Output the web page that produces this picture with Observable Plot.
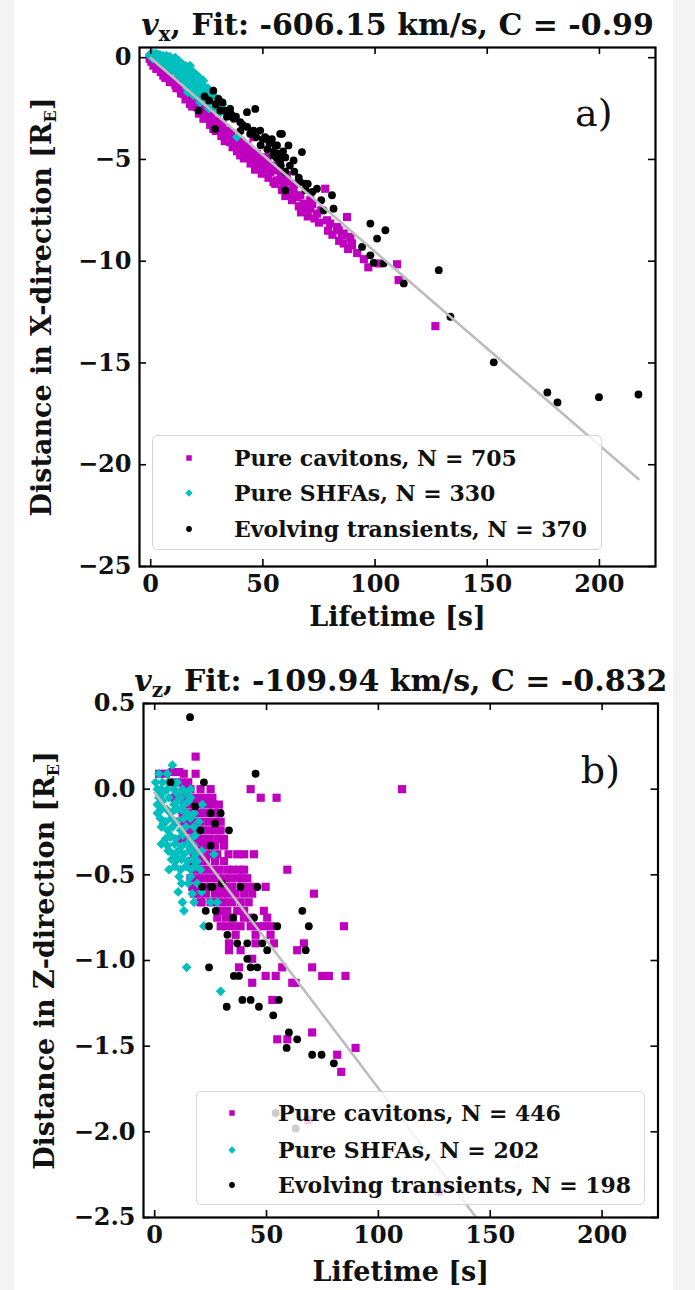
<!DOCTYPE html>
<html><head><meta charset="utf-8">
<script src="https://cdn.jsdelivr.net/npm/d3@7"></script>
<script src="https://cdn.jsdelivr.net/npm/@observablehq/plot@0.6"></script>
<style>
html,body{margin:0;padding:0;background:#fff;}
#page{position:relative;width:695px;height:1290px;background:#fff;overflow:hidden;font-family:"DejaVu Serif",serif;}
.strip{position:absolute;top:0;height:1290px;background:#f3f3f3;}
.panel{position:absolute;left:0;}
.legend{position:absolute;border:1px solid #d6d6d6;border-radius:5px;background:rgba(255,255,255,0.8);box-sizing:border-box;}
.legend .row{position:absolute;left:0;right:0;height:36px;line-height:36px;font-weight:bold;font-size:22px;white-space:nowrap;color:#111;}
.legend .row svg{position:absolute;top:0;}
</style></head>
<body>
<div id="page">
  <div class="strip" style="left:0;width:14px"></div>
  <div class="strip" style="left:673px;width:22px"></div>
  <div id="pa" class="panel" style="top:0"></div>
  <div id="pb" class="panel" style="top:640px"></div>
</div>
<script>
// ---------- data (lifetime [s], distance [R_E]) ----------
const catNames = ["Pure cavitons", "Pure SHFAs", "Evolving transients"];
const catColors = ["#bf00bf", "#00bfbf", "#000000"];
const countsA = [705, 330, 370];
const countsB = [446, 202, 198];
const titleA = {comp: "x", fit: "-606.15", C: "-0.99"};
const titleB = {comp: "z", fit: "-109.94", C: "-0.832"};
const interceptA = -0.02, interceptB = -0.02;
const xTicks = [0, 50, 100, 150, 200];
const yTicksA = [-25, -20, -15, -10, -5, 0];
const yTicksB = [-2.5, -2.0, -1.5, -1.0, -0.5, 0.0, 0.5];

const magA = [[-0.5,-0.05],[0.3,-0.2],[0.5,-0.1],[1.2,-0.39],[2,-0.25],[3,-0.5],[4,-0.45],[5.6,-0.88],[6,-0.7],[7,-0.95],[8,-0.85],[9,-1.1],[10.1,-1.21],[11,-1.35],[12,-1.2],[13,-1.5],[14.6,-1.78],[15,-1.6],[16,-1.9],[17.5,-2.27],[18,-2.0],[19,-2.2],[20.5,-2.43],[21,-2.15],[22,-2.6],[23,-2.45],[24,-2.75],[25,-2.84],[25,-2.93],[26,-3.0],[27,-2.8],[27.9,-3.5],[28,-3.2],[29.5,-3.09],[30,-3.3],[31,-3.5],[32,-3.2],[33.9,-3.58],[34,-3.8],[35.4,-4.07],[35.4,-4.15],[36,-3.7],[37,-4.0],[38,-4.2],[39.9,-4.4],[39.9,-4.8],[40,-4.1],[41,-4.5],[42.9,-4.8],[43,-4.3],[44,-4.6],[45.8,-3.91],[45,-4.9],[46,-4.7],[47.3,-4.72],[47.3,-5.05],[47.3,-5.46],[48,-5.2],[49,-5.0],[50.3,-5.38],[51.8,-4.89],[51.8,-5.46],[52,-5.1],[53.3,-5.62],[54.7,-6.11],[55,-5.3],[56.3,-5.54],[56.3,-6.03],[57.7,-6.03],[58,-5.8],[59.2,-6.36],[60.7,-5.78],[61,-6.1],[62.2,-6.52],[62.2,-6.76],[63.7,-6.52],[64,-6.2],[65.2,-6.85],[66.7,-6.76],[68.1,-7.17],[68.9,-7.34],[69.6,-7.58],[71.1,-7.01],[71.1,-7.42],[72,-7.2],[74.1,-7.66],[77.8,-6.44],[78.6,-7.99],[80,-8.15],[83,-8.32],[83.8,-8.48],[85.3,-8.73],[86,-9.13],[86,-8.64],[87.5,-7.83],[89,-8.81],[89.7,-9.22],[89.7,-9.13],[101.6,-10.11],[109.8,-10.15],[110.5,-10.93],[126.9,-13.19],
  [2.5,-0.55],[4.5,-0.7],[6.5,-1.0],[8.5,-1.2],[11.5,-1.5],[13.5,-1.75],[15.5,-2.05],[18.5,-2.4],[21.5,-2.75],[23.5,-3.0],[26.5,-3.3],[29,-3.6],[31.5,-3.85],[33,-4.1],[36.5,-4.4],[38.5,-4.6],[41.5,-4.95],[44.5,-5.2],[46.5,-5.5],[49.5,-5.7],[52.5,-5.9],[55.5,-6.2],[58.5,-6.5],[60,-6.8],[63,-7.0],[66,-7.3],[67,-7.6],[70,-7.8],[73,-7.9],[75,-8.1],[76,-7.5],[79,-8.5],[81,-8.7],[84,-9.0],[88,-9.4],[92,-9.6],[95,-9.9],[97,-10.3]];
const cyaA = [[-0.5,0.15],[0,0.05],[0.5,0.2],[1,-0.05],[1.5,0.1],[2,0.1],[2.5,-0.1],[3,0.05],[3.5,-0.2],[4,0],[4.5,-0.3],[5,-0.1],[5.5,-0.05],[6,-0.3],[6.5,-0.15],[7,0],[7.1,-0.4],[7.5,-0.2],[8,-0.5],[8.5,-0.35],[9,-0.2],[9.5,-0.6],[10,-0.45],[10.5,-0.3],[11,-0.7],[11.6,-0.23],[12,-0.55],[12.5,-0.9],[13,-0.4],[13.5,-0.75],[14,-1.0],[14.5,-0.6],[15,-0.85],[15.5,-1.2],[16,-0.45],[16.1,-1.5],[16.5,-1.0],[17,-0.7],[17.5,-0.39],[18,-1.3],[18.5,-0.9],[19,-1.04],[19.5,-1.6],[20,-1.2],[20.5,-1.9],[21,-1.4],[22,-1.1],[22.5,-1.7],[23.5,-1.13],[24,-2.0],[24.2,-1.54],[25,-2.3],[26,-1.8],[27,-2.1],[28,-2.5],[29,-2.2],[30.9,-2.35],[31,-2.7],[33.9,-2.68],[38.4,-3.9],
  [1,0.2],[2.5,0.2],[4,0.15],[5.5,0.1],[7,0.1],[8.5,0.05],[10,-0.05],[11,0],[12.5,-0.15],[14,-0.3],[15.5,-0.4],[17,-0.5],[18,-0.6],[20,-0.8],[21.5,-0.95],[23,-1.3],[25.5,-1.5],[27,-1.7],[28.5,-1.9],[30,-2.05],[32,-2.3],[26,-2.5],[22,-2.2],[19,-1.85],[16.5,-1.7]];
const blkA = [[27.9,-1.62],[30.2,-2.03],[28.7,-3.5],[21.3,-2.6],[32,-2.2],[33,-2.6],[35.4,-2.52],[36,-2.8],[37,-3.0],[38,-2.9],[39.9,-3.17],[41,-3.3],[42.9,-2.68],[43,-3.4],[44.3,-3.74],[45.8,-3.58],[46.6,-2.52],[48.8,-3.58],[50,-4.0],[51,-3.91],[51.8,-3.99],[53,-4.2],[54.7,-4.8],[55.5,-4.31],[55,-4.6],[56,-4.9],[57,-5.0],[58,-4.8],[58,-5.3],[56.3,-4.72],[56.3,-4.31],[57.7,-3.74],[57.7,-5.13],[58.5,-3.74],[59,-4.6],[60,-6.52],[60,-4.9],[61.4,-4.31],[62,-5.3],[63.7,-5.05],[66,-5.9],[66.7,-6.11],[67.4,-4.64],[68.9,-6.19],[70,-6.2],[74.1,-6.44],[77.1,-7.5],[80.8,-6.76],[81.5,-7.42],[94.2,-9.3],[97.9,-8.15],[97.9,-9.71],[99.4,-10.08],[100.9,-8.89],[103.8,-10.11],[104.6,-8.48],[112.8,-11.09],[128.4,-10.44],[133.6,-12.73],[152.9,-14.97],[176.8,-16.45],[181.3,-16.94],[199.8,-16.68],[217.4,-16.55],
  [24,-1.9],[26,-2.1],[29,-2.3],[31,-2.6],[34,-2.9],[40,-3.6],[47,-3.9],[49,-4.3],[52,-4.5],[54,-4.0],[60,-5.6],[64,-5.6],[69,-6.5],[72,-6.6],[76,-7.0]];

const magB = [[18.3,0.19],[2,0.09],[5,0.09],[8,0.1],[11,0.1],[13,0.09],[18.3,0.09],[42.9,0.0],[47.4,-0.05],[54.5,-0.05],[110.6,0.0],[20.5,0.0],[25.0,0.0],[25.8,-0.05],[26.5,-0.09],[28.7,-0.09],[28.7,-0.14],[29.5,-0.19],[24.3,-0.24],[29.5,-0.24],[21.3,-0.29],[28.0,-0.29],[31.0,-0.33],[36.9,-0.38],[44.4,-0.38],[19.8,-0.38],[59.3,-0.47],[32.5,-0.47],[37.7,-0.47],[20.5,-0.47],[26.5,-0.47],[19.1,-0.52],[25.0,-0.52],[31.0,-0.52],[36.9,-0.52],[41.4,-0.52],[16.8,-0.57],[22.8,-0.57],[29.5,-0.57],[34.7,-0.57],[42.2,-0.57],[49.6,-0.57],[71.2,-0.61],[19.8,-0.61],[30.2,-0.61],[36.2,-0.61],[43.6,-0.61],[20.5,-0.66],[31.0,-0.66],[38.4,-0.66],[48.8,-0.71],[32.5,-0.71],[36.9,-0.71],[31.7,-0.75],[39.9,-0.75],[50.3,-0.75],[29.5,-0.8],[38.4,-0.8],[42.9,-0.8],[48.8,-0.8],[84.6,-0.8],[36.2,-0.85],[45.1,-0.85],[51.8,-0.85],[33.2,-0.9],[45.1,-0.9],[53.3,-0.9],[66.7,-0.9],[33.2,-0.94],[38.4,-0.94],[63.7,-0.94],[43.6,-0.99],[37.7,-1.04],[57.0,-1.04],[70.4,-1.04],[49.6,-1.09],[54.1,-1.09],[74.9,-1.09],[77.9,-1.09],[85.3,-1.09],[43.6,-1.13],[61.5,-1.13],[63.0,-1.13],[52.6,-1.23],[70.4,-1.42],[54.8,-1.46],[59.3,-1.46],[89.8,-1.51],[81.6,-1.55],[83.4,-1.65],[68.7,-1.93],[127.0,-2.35],
  [9,0.04],[12,0.04],[15,0.04],[13,0.0],[16,0.0],[9,-0.05],[12,-0.05],[15.5,-0.05],[19,-0.05],[22.5,-0.05],[13,-0.09],[16.5,-0.09],[20,-0.09],[23.5,-0.09],[12.5,-0.14],[16,-0.14],[19.5,-0.14],[23,-0.14],[26.5,-0.14],[10,-0.19],[13.5,-0.19],[17,-0.19],[20.5,-0.19],[24,-0.19],[27.5,-0.19],[14,-0.24],[17.5,-0.24],[21,-0.24],[27,-0.24],[12,-0.29],[15.5,-0.29],[19,-0.29],[24.5,-0.29],[31,-0.29],[16,-0.33],[19.5,-0.33],[23,-0.33],[27,-0.33],[17.5,-0.38],[21,-0.38],[24.5,-0.38],[28,-0.38],[33,-0.38],[40,-0.38],[16,-0.42],[19.5,-0.42],[23,-0.42],[27,-0.42],[31,-0.42],[18,-0.47],[23.5,-0.47],[29,-0.47],[35,-0.47],[40,-0.47],[16,-0.52],[22,-0.52],[28,-0.52],[34,-0.52],[39,-0.52],[19.5,-0.57],[26,-0.57],[32,-0.57],[38.5,-0.57],[45,-0.57],[17.5,-0.61],[23,-0.61],[27,-0.61],[33,-0.61],[40,-0.61],[21,-0.66],[25,-0.66],[28,-0.66],[34.5,-0.66],[42,-0.66],[29.5,-0.71],[40,-0.71],[28,-0.75],[35,-0.75],[43,-0.75],[32,-0.8],[35,-0.8],[46,-0.8],[52,-0.8]];
const cyaB = [[7.9,0.14],[1.9,0.09],[5.7,0.09],[0.4,0.04],[3.4,0.04],[10.1,0.04],[1.2,0.0],[5.7,0.0],[8.6,0.0],[12.4,0.0],[16.1,0.0],[1.9,-0.05],[6.4,-0.05],[11.6,-0.05],[16.1,-0.05],[1.2,-0.09],[8.6,-0.09],[13.1,-0.09],[21.3,-0.09],[1.2,-0.14],[7.1,-0.14],[14.6,-0.14],[17.6,-0.14],[4.9,-0.19],[10.1,-0.19],[19.8,-0.19],[5.7,-0.24],[11.6,-0.24],[20.5,-0.24],[4.9,-0.29],[9.4,-0.29],[16.1,-0.29],[5.7,-0.33],[12.4,-0.33],[17.6,-0.33],[8.6,-0.38],[13.1,-0.38],[18.3,-0.38],[26.5,-0.38],[9.4,-0.42],[14.6,-0.42],[19.1,-0.42],[6.4,-0.47],[11.6,-0.47],[16.1,-0.47],[20.5,-0.47],[10.9,-0.51],[16.1,-0.51],[16.8,-0.61],[17.6,-0.66],[25.0,-0.66],[28.0,-0.66],[12.4,-0.66],[13.1,-0.71],[22.0,-0.8],[14.3,-1.04],[29.5,-1.18],[3,-0.1],[4,-0.2],[7,-0.28],[9,-0.12],[3,0.0],[6,-0.36],[10,-0.4],
  [6,0.04],[8,0.04],[2.5,-0.02],[4,-0.02],[9.5,-0.02],[14,-0.02],[3.5,-0.07],[10,-0.07],[15,-0.07],[3,-0.12],[5.5,-0.12],[10.5,-0.12],[12,-0.12],[2.5,-0.17],[7.5,-0.17],[13,-0.17],[16,-0.17],[3,-0.22],[8,-0.22],[14,-0.22],[17.5,-0.22],[7,-0.27],[12.5,-0.27],[18,-0.27],[3,-0.32],[9,-0.32],[14.5,-0.32],[6.5,-0.36],[10.5,-0.36],[15.5,-0.36],[21,-0.36],[7.5,-0.41],[12,-0.41],[17,-0.41],[9,-0.45],[14,-0.45],[18,-0.45],[12,-0.55],[15,-0.55],[19,-0.55],[10.5,-0.6],[21,-0.6]];
const blkB = [[15.8,0.42],[45.1,0.09],[22.0,0.04],[7.1,0.04],[25.0,-0.14],[29.5,-0.14],[33.2,-0.24],[20.5,-0.24],[25.0,-0.33],[21.3,-0.57],[25.0,-0.57],[25.8,-0.57],[38.4,-0.57],[45.9,-0.57],[22.8,-0.71],[27.3,-0.71],[44.4,-0.75],[66.0,-0.71],[24.3,-0.8],[54.8,-0.8],[68.9,-0.8],[32.5,-0.85],[36.9,-0.9],[41.4,-0.9],[48.1,-0.9],[50.3,-0.94],[67.5,-0.94],[41.4,-0.99],[42.9,-1.04],[45.9,-1.04],[24.3,-1.04],[35.4,-1.09],[37.7,-1.09],[39.2,-1.23],[42.9,-1.23],[55.5,-1.23],[32.2,-1.27],[46.6,-1.27],[53.0,-1.32],[60.0,-1.42],[63.7,-1.46],[59.0,-1.51],[70.4,-1.55],[74.6,-1.55],[80.1,-1.6],[54.1,-1.89],[63.0,-1.98],
  [27,-0.2],[30,-0.55],[35,-0.75],[18,-0.1]];

// ---------- helpers ----------
const RE_KM = 6371;
const toRows = arr => arr.map(([t, d]) => ({t, d}));
const fmtA = d => d < 0 ? "\u2212" + Math.abs(d) : String(d);
const fmtB = d => (d < 0 ? "\u2212" : "") + Math.abs(d).toFixed(1);

function rich(svg, key, parts) {
  d3.select(svg).selectAll("text").filter(function () { return this.textContent === key; }).each(function () {
    const t = d3.select(this);
    t.text(null);
    for (const p of parts) {
      const s = t.append("tspan").text(p.t);
      if (p.italic) s.attr("font-style", "italic");
      if (p.size) s.attr("font-size", p.size);
      if (p.dy) s.attr("dy", p.dy);
      if (p.weight) s.attr("font-weight", p.weight);
    }
  });
}

function panel({mag, cya, blk, fitSlope, intercept, fitTmax, yDomain, yTicks, yFmt, height, mT, mB, mL, mR, title, axis, tag, tagDx, tagDy, ylabDx, xlabDy}) {
  const W = 695;
  const fw = W - mL - mR, fh = height - mT - mB;
  const fitRows = [0, fitTmax].map(t => ({t, d: intercept + fitSlope / RE_KM * t}));
  const titleKey = "TITLE_" + axis;
  const ylabKey = "YLAB_" + axis;
  const svg = Plot.plot({
    width: W, height,
    marginTop: mT, marginBottom: mB, marginLeft: mL, marginRight: mR,
    x: {domain: [-5, 225]},
    y: {domain: yDomain},
    style: {background: "transparent", fontFamily: "'DejaVu Serif', serif", fontSize: "24px", fontWeight: "bold", color: "#111", overflow: "visible"},
    marks: [
      Plot.dot(toRows(mag), {x: "t", y: "d", symbol: "square", r: 4.6, fill: catColors[0], stroke: "none"}),
      Plot.dot(toRows(cya), {x: "t", y: "d", symbol: "diamond2", r: 4.4, fill: catColors[1], stroke: "none"}),
      Plot.dot(toRows(blk), {x: "t", y: "d", symbol: "circle", r: 3.9, fill: catColors[2], stroke: "none"}),
      Plot.line(fitRows, {x: "t", y: "d", stroke: "#bdbdbd", strokeWidth: 2.6, clip: true}),
      Plot.frame({stroke: "#000", strokeWidth: 2.2}),
      Plot.ruleX(xTicks, {x: d => d, insetTop: fh - 7, stroke: "#000", strokeWidth: 1.6}),
      Plot.ruleX(xTicks, {x: d => d, insetBottom: fh - 7, stroke: "#000", strokeWidth: 1.6}),
      Plot.ruleY(yTicks, {y: d => d, insetRight: fw - 7, stroke: "#000", strokeWidth: 1.6}),
      Plot.ruleY(yTicks, {y: d => d, insetLeft: fw - 7, stroke: "#000", strokeWidth: 1.6}),
      Plot.axisX(xTicks, {tickSize: 0, tickPadding: 8, label: null, fontSize: 24}),
      Plot.axisY(yTicks, {tickSize: 0, tickPadding: 8, label: null, tickFormat: yFmt, fontSize: 24}),
      Plot.text([tag], {frameAnchor: "top-right", dx: tagDx, dy: tagDy, textAnchor: "end", lineAnchor: "top", fontSize: 38, fontWeight: "normal"}),
      Plot.text(["Lifetime [s]"], {frameAnchor: "bottom", dy: xlabDy, lineAnchor: "middle", fontSize: 27, fontWeight: "bold"}),
      Plot.text([ylabKey], {frameAnchor: "left", dx: ylabDx, rotate: -90, textAnchor: "middle", lineAnchor: "middle", fontSize: 27, fontWeight: "bold"}),
      Plot.text([titleKey], {frameAnchor: "top", dy: -13, textAnchor: "middle", lineAnchor: "bottom", fontSize: 30, fontWeight: "bold"})
    ]
  });
  rich(svg, titleKey, [
    {t: "v", italic: true},
    {t: axis, size: 20, dy: 6},
    {t: `, Fit: ${title.fit} km/s, C = ${title.C}`, dy: -6}
  ]);
  rich(svg, ylabKey, [
    {t: `Distance in ${axis.toUpperCase()}-direction [R`},
    {t: "E", size: 16, dy: 5},
    {t: "]", dy: -5}
  ]);
  return svg;
}

function legend(container, counts, box, rowCenters, mkX, textX) {
  const lg = document.createElement("div");
  lg.className = "legend";
  Object.assign(lg.style, {left: box[0] + "px", top: box[1] + "px", width: box[2] + "px", height: box[3] + "px"});
  const shapes = [d3.symbolSquare, d3.symbolDiamond2, d3.symbolCircle];
  const sizes = [3.1, 3.3, 2.9];
  catNames.forEach((name, i) => {
    const row = document.createElement("div");
    row.className = "row";
    row.style.top = (rowCenters[i] - 18) + "px";
    const mk = d3.create("svg").attr("width", 16).attr("height", 36).style("left", (mkX - 8) + "px");
    mk.append("path").attr("transform", "translate(8,18)").attr("d", d3.symbol(shapes[i], Math.PI * sizes[i] * sizes[i])()).attr("fill", catColors[i]);
    row.appendChild(mk.node());
    const tx = document.createElement("span");
    tx.style.position = "absolute";
    tx.style.left = textX + "px";
    tx.textContent = `${name}, N = ${counts[i]}`;
    row.appendChild(tx);
    lg.appendChild(row);
  });
  container.appendChild(lg);
}

const pa = panel({mag: magA, cya: cyaA, blk: blkA, fitSlope: -606.15, intercept: interceptA, fitTmax: 217.4,
  yDomain: [-25, 0.5], yTicks: yTicksA, yFmt: fmtA, height: 640, mT: 47, mB: 74, mL: 139, mR: 40,
  title: titleA, axis: "x", tag: "a)", tagDx: -43, tagDy: 52, ylabDx: -97, xlabDy: 51});
document.getElementById("pa").appendChild(pa);
legend(document.getElementById("pa"), countsA, [152, 435, 450, 115], [22, 57, 93], 36, 81);

const pb = panel({mag: magB, cya: cyaB, blk: blkB, fitSlope: -109.94, intercept: interceptB, fitTmax: 160,
  yDomain: [-2.5, 0.5], yTicks: yTicksB, yFmt: fmtB, height: 650, mT: 63, mB: 73, mL: 143, mR: 37.5,
  title: titleB, axis: "z", tag: "b)", tagDx: -38, tagDy: 53, ylabDx: -98, xlabDy: 55});
document.getElementById("pb").appendChild(pb);
legend(document.getElementById("pb"), countsB, [196, 451, 449, 114], [21, 58, 93], 35, 81);
</script>
</body></html>
